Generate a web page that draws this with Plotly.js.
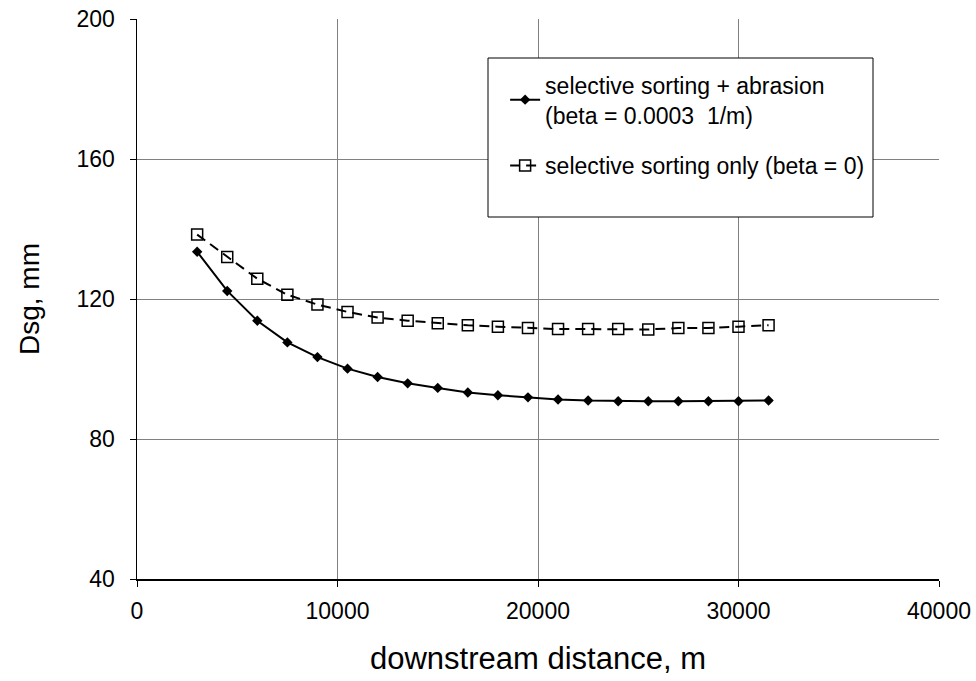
<!DOCTYPE html>
<html><head><meta charset="utf-8">
<script src="https://cdn.plot.ly/plotly-3.0.1.min.js"></script>
<style>body{margin:0;background:#fff}#c{width:976px;height:681px}</style>
</head><body><div id="c"></div>
<script>
const distance = [3000,4500,6000,7500,9000,10500,12000,13500,15000,16500,18000,19500,21000,22500,24000,25500,27000,28500,30000,31500];
const dsgAbrasion = [133.5,122.3,113.8,107.6,103.4,100.1,97.7,95.9,94.6,93.3,92.5,91.9,91.3,91.0,90.8,90.8,90.8,90.8,90.8,91.0];
const dsgSortingOnly = [138.4,132.0,125.8,121.2,118.4,116.3,114.7,113.8,113.1,112.5,112.1,111.7,111.4,111.4,111.4,111.3,111.7,111.7,112.1,112.5];
const xTicks = [0,10000,20000,30000,40000];
const yTicks = [40,80,120,160,200];

const font = 'Arial, "Liberation Sans", sans-serif';
const traces = [
  {x: distance, y: dsgAbrasion, mode: 'lines+markers', name: 'selective sorting + abrasion<br>(beta = 0.0003  1/m)',
   line: {color: '#000', width: 2}, marker: {symbol: 'diamond', size: 8, color: '#000'}, legendgroup: 'a'},
  {x: distance, y: dsgSortingOnly, mode: 'lines+markers', name: 'selective sorting only (beta = 0)',
   line: {color: '#000', width: 2, dash: '10px,6px'}, marker: {symbol: 'square-open', size: 11, color: '#000', line: {width: 1.5}}, legendgroup: 'b'}
];
const layout = {
  width: 976, height: 681,
  margin: {l: 137, r: 37, t: 19, b: 102},
  paper_bgcolor: '#fff', plot_bgcolor: '#fff',
  font: {family: font, color: '#000', size: 22},
  xaxis: {range: [0, 40000], tickvals: xTicks, ticktext: xTicks.map(String), showgrid: true, gridcolor: '#808080', gridwidth: 1,
    zeroline: false, showline: true, linecolor: '#000', linewidth: 1.5, ticks: 'outside', ticklen: 6, tickcolor: '#000',
    ticklabelstandoff: 5, tickfont: {size: 23}, title: {text: 'downstream distance, m', font: {size: 31}, standoff: 24}},
  yaxis: {range: [40, 200], tickvals: yTicks, ticktext: yTicks.map(String), showgrid: true, gridcolor: '#808080', gridwidth: 1,
    zeroline: false, showline: true, linecolor: '#000', linewidth: 1.5, ticks: 'outside', ticklen: 6, tickcolor: '#000',
    ticklabelstandoff: 10, tickfont: {size: 23}, title: {text: 'Dsg, mm', font: {size: 28}, standoff: 28}},
  showlegend: true,
  legend: {x: 0.459, y: 0.921, xanchor: 'left', yanchor: 'top', bgcolor: 'rgba(0,0,0,0)', borderwidth: 0,
    font: {size: 23}, tracegroupgap: 18, traceorder: 'grouped', itemwidth: 30},
  shapes: [{type: 'rect', xref: 'paper', yref: 'paper', x0: (488-137)/802, x1: (873-137)/802, y0: (579-217)/560, y1: (579-58)/560,
    line: {color: '#000', width: 1}, fillcolor: '#fff', layer: 'above'}]
};
Plotly.newPlot('c', traces, layout, {displayModeBar: false, staticPlot: true});
</script></body></html>
